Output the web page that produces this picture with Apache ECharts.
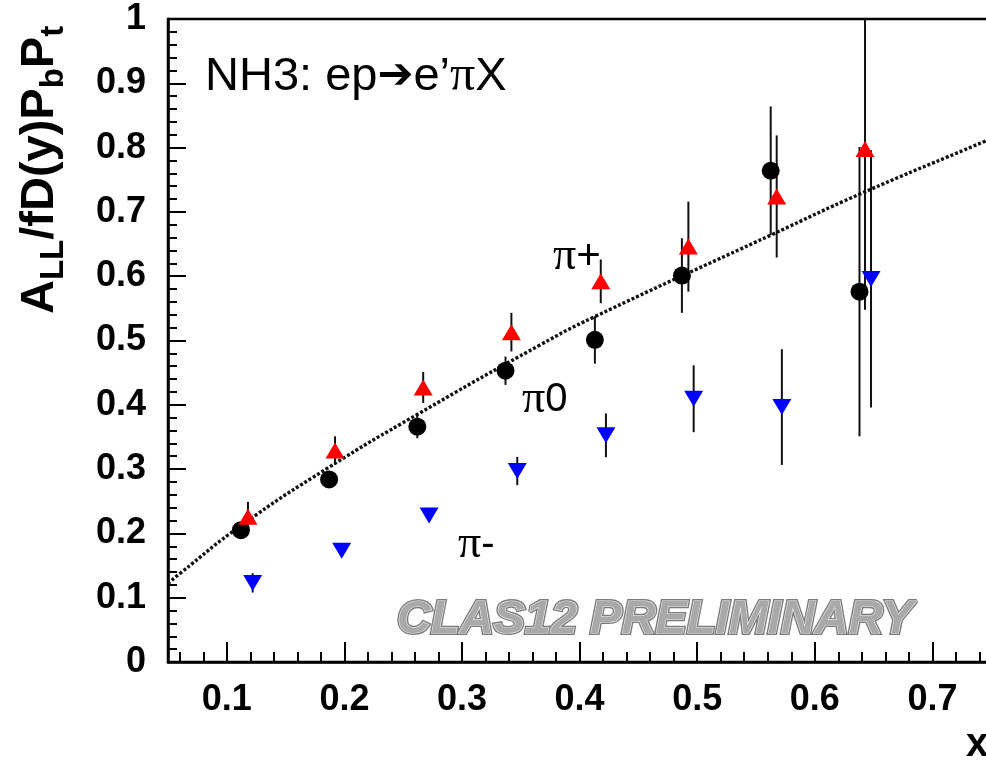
<!DOCTYPE html>
<html>
<head>
<meta charset="utf-8">
<script src="https://cdn.jsdelivr.net/npm/echarts@6/dist/echarts.min.js"></script>
<style>
html,body{margin:0;padding:0;background:#fff;}
#chart{width:986px;height:761px;}
</style>
</head>
<body>
<div id="chart"></div>
<script>
// ---- data ----
const xPi0 = [0.112, 0.187, 0.262, 0.337, 0.413, 0.487, 0.5625, 0.638];
const yPi0 = [0.205, 0.284, 0.366, 0.453, 0.501, 0.601, 0.764, 0.576];
const ePi0 = [0.012, 0.012, 0.018, 0.022, 0.037, 0.058, 0.100, 0.225];

const xPip = [0.118, 0.192, 0.267, 0.342, 0.418, 0.4925, 0.5676, 0.6427];
const yPip = [0.226, 0.329, 0.427, 0.513, 0.592, 0.646, 0.724, 0.798];
const ePip = [0.023, 0.022, 0.024, 0.030, 0.034, 0.070, 0.095, 0.250];

const xPim = [0.122, 0.1977, 0.272, 0.347, 0.4224, 0.497, 0.572, 0.6478];
const yPim = [0.123, 0.173, 0.228, 0.297, 0.3525, 0.4094, 0.3965, 0.5958];
const ePim = [0.015, 0.010, 0.010, 0.022, 0.034, 0.052, 0.090, 0.200];

const fitX = [0.05, 0.0602, 0.112, 0.187, 0.262, 0.3663, 0.4117, 0.5647, 0.6384, 0.7456, 0.76];
const fitY = [0.122, 0.1377, 0.212, 0.303, 0.385, 0.493, 0.536, 0.6657, 0.7278, 0.8106, 0.822];

const xMajorTicks = [0.1, 0.2, 0.3, 0.4, 0.5, 0.6, 0.7, 0.8];
const xMajorLabels = [0.1, 0.2, 0.3, 0.4, 0.5, 0.6, 0.7];
const xMinorTicks = [0.06, 0.08, 0.12, 0.14, 0.16, 0.18, 0.22, 0.24, 0.26, 0.28,
  0.32, 0.34, 0.36, 0.38, 0.42, 0.44, 0.46, 0.48, 0.52, 0.54, 0.56, 0.58,
  0.62, 0.64, 0.66, 0.68, 0.72, 0.74, 0.76, 0.78];

// ---- helpers ----
function zip(xs, ys) { return xs.map((x, i) => [x, ys[i]]); }
function errData(xs, ys, es) { return xs.map((x, i) => [x, ys[i] - es[i], ys[i] + es[i]]); }
function errSeries(xs, ys, es, z) {
  return {
    type: 'custom', xAxisIndex: 0, yAxisIndex: 0, clip: true, z: z,
    data: errData(xs, ys, es),
    renderItem: function (params, api) {
      const p1 = api.coord([api.value(0), api.value(1)]);
      const p2 = api.coord([api.value(0), api.value(2)]);
      return { type: 'line', shape: { x1: p1[0], y1: p1[1], x2: p2[0], y2: p2[1] },
        style: { stroke: '#111', lineWidth: 2 } };
    },
    silent: true
  };
}

const chart = echarts.init(document.getElementById('chart'), null, { renderer: 'canvas' });
const SANS = '"Liberation Sans", Arial, Helvetica, sans-serif';
const SERIF = '"Liberation Serif", "Times New Roman", serif';
const PRELIM = 'CLAS12 PRELIMINARY';

const option = {
  animation: false,
  backgroundColor: '#fff',
  grid: { left: 168, right: -64, top: 19, bottom: 99, show: true, containLabel: false,
    outerBoundsMode: 'none',
    borderColor: '#000', borderWidth: 2.5, backgroundColor: 'transparent' },
  xAxis: [
    { type: 'value', min: 0.05, max: 0.8, position: 'bottom',
      axisLine: { show: true, onZero: false, lineStyle: { color: '#000', width: 2.5 } },
      axisTick: { show: true, inside: true, length: 20, customValues: xMajorTicks,
        lineStyle: { color: '#000', width: 2 } },
      axisLabel: { show: true, customValues: xMajorLabels, margin: 20, hideOverlap: false,
        color: '#000', fontSize: 36, fontWeight: 'bold', fontFamily: SANS,
        formatter: v => String(Math.round(v * 10) / 10) },
      splitLine: { show: false } },
    { type: 'value', min: 0.05, max: 0.8, position: 'bottom',
      axisLine: { show: false, onZero: false },
      axisTick: { show: true, inside: true, length: 10, customValues: xMinorTicks,
        lineStyle: { color: '#000', width: 2 } },
      axisLabel: { show: false }, splitLine: { show: false } }
  ],
  yAxis: {
    type: 'value', min: 0, max: 1, interval: 0.1,
    axisLine: { show: true, onZero: false, lineStyle: { color: '#000', width: 2.5 } },
    axisTick: { show: true, inside: true, length: 18, lineStyle: { color: '#000', width: 2 } },
    minorTick: { show: true, splitNumber: 5, length: 9, lineStyle: { color: '#000', width: 2 } },
    axisLabel: { margin: 22, color: '#000', fontSize: 36, fontWeight: 'bold', fontFamily: SANS,
      formatter: v => String(Math.round(v * 10) / 10) },
    splitLine: { show: false }
  },
  series: [
    { type: 'line', data: zip(fitX, fitY), smooth: true, symbol: 'none', z: 3,
      lineStyle: { color: '#111', width: 3.4, type: [3, 2] }, silent: true },
    errSeries(xPi0, yPi0, ePi0, 2),
    errSeries(xPip, yPip, ePip, 2),
    errSeries(xPim, yPim, ePim, 2),
    { type: 'scatter', name: 'pi0', data: zip(xPi0, yPi0), symbol: 'circle', symbolSize: 18, z: 5,
      itemStyle: { color: '#000', opacity: 1 } },
    { type: 'scatter', name: 'pi+', data: zip(xPip, yPip), symbol: 'triangle', symbolSize: [19, 16], z: 5,
      itemStyle: { color: '#ff0000', opacity: 1 } },
    { type: 'scatter', name: 'pi-', data: zip(xPim, yPim), symbol: 'triangle', symbolRotate: 180,
      symbolSize: [19, 16], z: 5, itemStyle: { color: '#0000ff', opacity: 1 } }
  ],
  graphic: [
    { type: 'text', x: 40, y: 314, rotation: Math.PI / 2, z: 10,
      style: { text: '{m|A}{s|LL}{m|/fD(y)P}{s|b}{m|P}{s|t}', align: 'left', verticalAlign: 'middle',
        rich: {
          m: { fontSize: 47, fontWeight: 'bold', fontFamily: SANS, fill: '#000', lineHeight: 60 },
          s: { fontSize: 33, fontWeight: 'bold', fontFamily: SANS, fill: '#000', lineHeight: 36, verticalAlign: 'bottom' }
        } } },
    { type: 'text', x: 205, y: 77, z: 10,
      style: { text: '{a|NH3: ep}{r|➔}{a|e’}{p|π}{a|X}', align: 'left', verticalAlign: 'middle',
        rich: {
          a: { fontSize: 47, fontFamily: SANS, fill: '#000' },
          r: { fontSize: 43, fontFamily: '"DejaVu Sans", sans-serif', fill: '#000' },
          p: { fontSize: 50, fontFamily: SERIF, fill: '#000' }
        } } },
    { type: 'text', x: 553, y: 257, z: 10,
      style: { text: '{p|π}{a|+}', align: 'left', verticalAlign: 'middle',
        rich: { p: { fontSize: 46, fontFamily: SERIF, fill: '#000' },
                a: { fontSize: 42, fontFamily: SANS, fill: '#000' } } } },
    { type: 'text', x: 522, y: 400, z: 10,
      style: { text: '{p|π}{a|0}', align: 'left', verticalAlign: 'middle',
        rich: { p: { fontSize: 46, fontFamily: SERIF, fill: '#000' },
                a: { fontSize: 40, fontFamily: SANS, fill: '#000' } } } },
    { type: 'text', x: 458, y: 545, z: 10,
      style: { text: '{p|π}{a|-}', align: 'left', verticalAlign: 'middle',
        rich: { p: { fontSize: 46, fontFamily: SERIF, fill: '#000' },
                a: { fontSize: 40, fontFamily: SANS, fill: '#000' } } } },
    { type: 'text', x: 397, y: 620, z: 10,
      style: { text: PRELIM, align: 'left', verticalAlign: 'middle',
        fontSize: 47, fontWeight: 'bold', fontStyle: 'italic', fontFamily: SANS,
        fill: '#888888', stroke: '#7c7c7c', lineWidth: 4 } },
    { type: 'text', x: 397, y: 620, z: 11,
      style: { text: PRELIM, align: 'left', verticalAlign: 'middle',
        fontSize: 47, fontWeight: 'bold', fontStyle: 'italic', fontFamily: SANS,
        fill: '#a9a9a9', stroke: '#f0f0f0', lineWidth: 1.2 } },
    { type: 'text', x: 966, y: 745, z: 10,
      style: { text: 'x', align: 'left', verticalAlign: 'middle',
        fontSize: 40, fontWeight: 'bold', fontFamily: SANS, fill: '#000' } }
  ]
};
chart.setOption(option);
</script>
</body>
</html>
